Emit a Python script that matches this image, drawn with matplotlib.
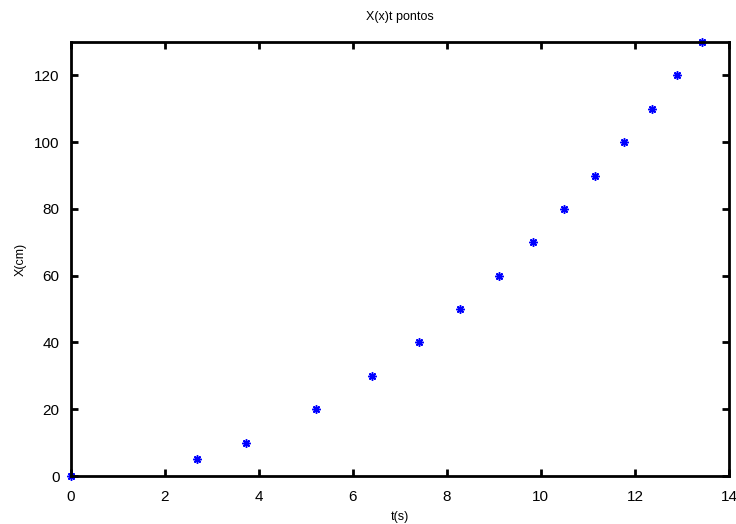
import numpy as np
import matplotlib
matplotlib.use("Agg")
import matplotlib.pyplot as plt

# tempo (s) e posicao (cm)
t = [0.0, 2.69, 3.73, 5.22, 6.42, 7.41, 8.28, 9.10, 9.83, 10.49, 11.15, 11.76, 12.37, 12.89, 13.42]
x = [0, 5, 10, 20, 30, 40, 50, 60, 70, 80, 90, 100, 110, 120, 130]

xticks = [0, 2, 4, 6, 8, 10, 12, 14]
yticks = [0, 20, 40, 60, 80, 100, 120]

plt.rcParams['font.family'] = ['Liberation Sans', 'DejaVu Sans']

fig = plt.figure(figsize=(7.36, 5.24), dpi=100)
ax = fig.add_axes([70.5 / 736, 1 - 476 / 524, (729 - 70.5) / 736, (476 - 42) / 524])

ax.plot(t, x, linestyle='none', marker=(8, 2, 0), markersize=6,
        markeredgewidth=1.1, color='blue', clip_on=False)

ax.set_xlim(0, 14)
ax.set_ylim(0, 130)
ax.set_xticks(xticks)
ax.set_yticks(yticks)
ax.tick_params(direction='in', top=True, right=True, length=5, width=2,
               labelsize=11, pad=8, colors='black')
ax.tick_params(axis='x', pad=10)
for s in ax.spines.values():
    s.set_linewidth(2)

ax.set_title('X(x)t pontos', fontsize=9, pad=16)
ax.set_xlabel('t(s)', fontsize=9, labelpad=5)
ax.set_ylabel('X(cm)', fontsize=9, labelpad=5)

fig.savefig('out.png', dpi=100)
